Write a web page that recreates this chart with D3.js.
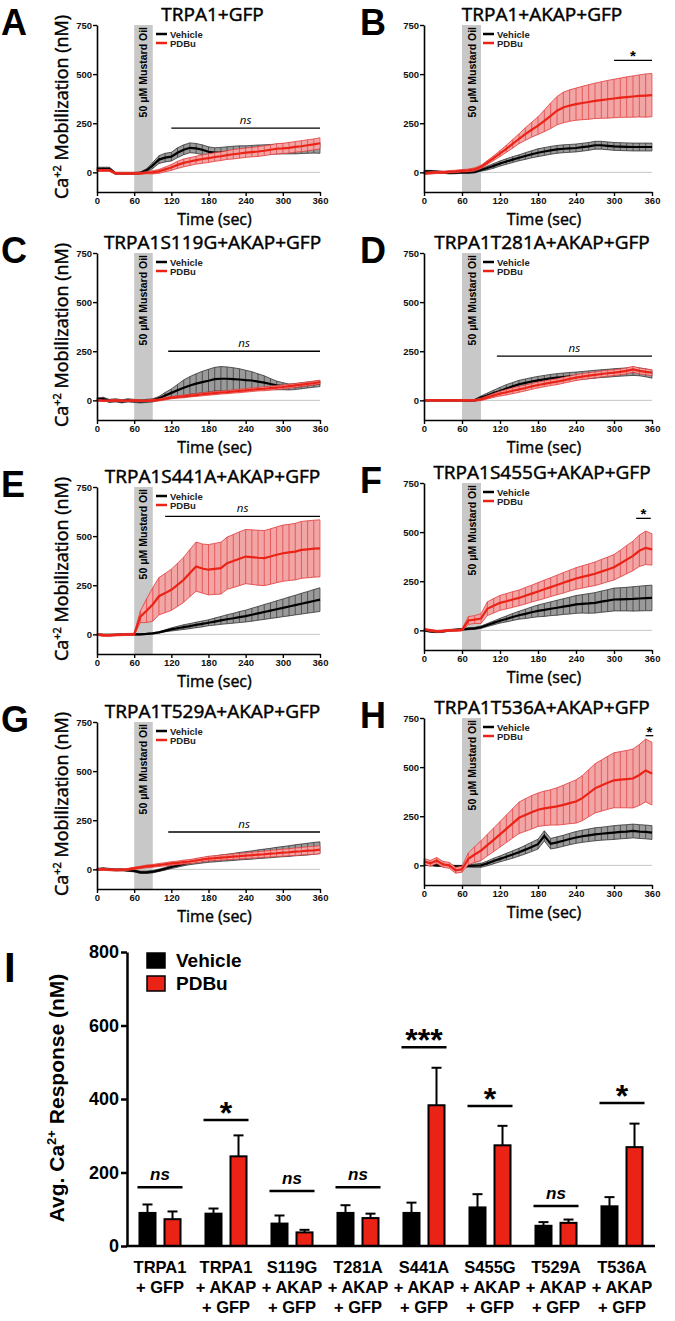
<!DOCTYPE html>
<html lang="en">
<head>
<meta charset="UTF-8">
<title>TRPA1 Ca2+ mobilization</title>
<script src="https://d3js.org/d3.v7.min.js"></script>
<style>
  body { margin: 0; background: #fff; }
</style>
</head>
<body>
<svg id="fig" width="675" height="1321" font-family="'Liberation Sans', Arial, sans-serif"></svg>
<script>
const timeSec = [0,10,20,30,40,50,60,70,80,90,100,110,120,130,140,150,160,170,180,190,200,210,220,230,240,250,260,270,280,290,300,310,320,330,340,350,360];

const vehA    = [18,18,18,-5,-5,-5,-5,-3,10,35,65,75,80,100,115,125,122,115,105,100,102,105,108,110,110,112,114,115,117,118,120,121,122,124,125,126,125];
const vehAErr = [8,8,8,5,5,5,5,5,8,15,20,22,22,25,25,25,25,25,25,25,25,25,25,25,25,25,25,25,25,25,26,27,28,28,28,28,28];
const pdbA    = [10,10,10,-5,-5,-5,-5,-5,-2,0,5,15,25,38,48,55,62,68,72,78,82,88,92,96,100,103,106,110,115,120,122,125,130,133,138,142,148];
const pdbAErr = [5,5,5,5,5,5,5,5,5,8,10,12,15,18,20,20,20,22,22,22,22,22,24,24,24,24,25,25,25,26,26,27,27,28,28,28,28];

const vehB    = [5,5,3,0,-3,-2,0,0,2,12,22,33,45,55,65,74,83,92,100,106,112,117,120,122,124,128,132,138,138,135,132,131,130,129,129,129,129];
const vehBErr = [5,5,5,5,5,5,5,5,5,6,10,12,13,14,15,15,17,18,20,20,20,20,20,20,20,20,20,20,20,20,20,20,20,20,20,20,20];
const pdbB    = [-5,-3,0,0,3,5,8,10,15,28,50,72,96,120,145,171,195,217,238,262,288,314,330,340,347,353,358,364,368,372,376,380,383,386,389,391,393];
const pdbBErr = [6,6,6,6,6,6,6,7,8,8,10,12,15,18,22,25,32,38,45,55,65,72,78,80,82,85,88,90,93,96,98,100,103,105,107,110,110];

const vehC    = [5,8,-3,0,-5,0,-3,-5,-3,0,10,25,38,51,64,76,85,93,100,108,110,110,108,106,103,101,95,90,83,76,72,68,70,74,78,82,85];
const vehCErr = [8,8,8,8,8,8,8,8,8,8,10,15,20,30,40,45,50,55,58,60,62,60,58,55,50,45,40,35,28,22,18,15,15,15,15,15,15];
const pdbC    = [0,-2,-2,0,-2,-2,0,-2,-2,0,2,8,14,17,20,24,27,31,34,37,40,42,45,48,51,54,57,59,62,65,68,72,76,80,84,88,93];
const pdbCErr = [4,4,4,4,4,4,4,4,4,5,5,6,6,6,7,7,7,8,8,8,8,8,8,9,9,9,9,10,10,10,10,10,10,10,10,10,10];

const vehD    = [0,0,0,0,0,0,0,-2,0,14,25,37,48,60,71,82,89,96,102,107,112,116,119,122,124,127,130,133,136,138,141,143,145,147,145,140,133];
const vehDErr = [4,4,4,4,4,4,4,4,5,8,12,15,18,20,20,20,20,20,20,20,20,20,20,20,20,20,20,20,20,20,20,20,20,20,20,20,20];
const pdbD    = [0,0,0,0,0,0,0,0,0,5,15,25,34,41,49,56,63,71,78,84,90,95,102,109,116,121,126,130,134,138,141,145,150,158,150,145,141];
const pdbDErr = [4,4,4,4,4,4,4,4,4,6,8,10,12,14,15,15,15,15,15,15,15,15,15,15,15,15,15,15,15,15,15,15,15,15,15,15,15];

const vehE    = [0,-3,-3,-2,0,0,0,0,2,5,10,18,25,31,37,42,48,53,59,65,71,77,82,88,93,100,107,114,121,128,135,142,149,156,163,170,177];
const vehEErr = [3,3,3,3,3,3,3,3,3,3,3,5,8,10,12,13,14,15,15,18,20,23,25,28,30,33,35,38,40,43,45,48,50,53,55,58,60];
const pdbE    = [0,-5,-5,-3,-2,0,0,90,120,152,194,210,227,252,278,312,345,335,329,333,337,362,373,385,396,393,390,388,396,405,413,417,421,430,433,436,438];
const pdbEErr = [5,5,5,5,5,5,5,30,60,85,95,100,105,110,115,120,125,125,128,130,132,133,135,137,138,139,140,140,141,142,143,143,144,145,145,145,145];

const vehF    = [0,-5,-8,-5,0,3,5,8,10,16,27,38,49,58,68,77,84,92,99,104,110,115,121,126,132,135,137,140,146,151,157,158,159,160,162,164,165];
const vehFErr = [4,4,4,4,4,4,4,5,5,6,8,10,12,15,18,20,24,27,30,33,35,38,40,43,45,47,50,52,54,56,58,59,60,62,63,64,65];
const pdbF    = [5,0,-5,-3,0,0,2,50,55,60,110,125,140,148,157,165,176,187,198,209,220,231,242,253,264,272,280,288,299,310,321,340,360,379,405,420,412];
const pdbFErr = [5,5,5,5,5,5,5,20,20,25,35,37,38,39,40,40,42,43,45,47,48,50,52,53,55,57,58,60,62,63,65,68,72,75,80,85,80];

const vehG    = [0,3,0,-3,-2,-5,-8,-15,-15,-12,-5,3,12,20,28,35,40,45,50,53,57,60,63,67,70,73,77,80,83,87,90,93,97,100,103,107,110];
const vehGErr = [5,5,5,5,5,5,5,6,6,6,6,7,8,9,10,11,12,13,14,15,16,17,18,19,20,21,22,23,24,25,26,27,28,29,30,30,30];
const pdbG    = [0,0,-2,-3,-3,0,5,10,15,18,22,26,30,33,37,40,45,50,55,57,60,62,65,67,70,72,75,77,80,82,85,87,90,92,95,97,100];
const pdbGErr = [5,5,5,5,5,5,6,6,7,7,8,8,9,9,10,10,11,11,12,12,13,13,14,14,15,15,16,16,17,17,18,18,19,19,20,20,20];

const vehH    = [5,3,0,0,-3,-5,-5,-3,-2,0,10,22,33,44,55,67,80,94,108,150,110,117,125,134,142,148,153,158,161,164,167,170,172,175,172,170,167];
const vehHErr = [5,5,5,5,5,5,5,6,8,10,12,14,15,17,19,20,22,24,25,26,27,28,28,29,30,31,32,33,33,34,35,35,35,35,35,35,35];
const pdbH    = [20,10,25,5,0,-25,-20,33,55,75,103,130,158,186,214,242,256,270,283,290,295,300,308,317,325,342,367,392,406,420,433,436,439,442,460,483,467];
const pdbHErr = [15,15,15,15,15,15,15,30,40,50,55,60,65,70,75,80,83,85,85,88,90,95,100,105,110,115,120,125,130,135,140,143,146,150,155,160,160];

const panelLetters = ['A','B','C','D','E','F','G','H'];
const panelTitles = ['TRPA1+GFP','TRPA1+AKAP+GFP','TRPA1S119G+AKAP+GFP','TRPA1T281A+AKAP+GFP',
                     'TRPA1S441A+AKAP+GFP','TRPA1S455G+AKAP+GFP','TRPA1T529A+AKAP+GFP','TRPA1T536A+AKAP+GFP'];
const panelVeh = [[vehA,vehAErr],[vehB,vehBErr],[vehC,vehCErr],[vehD,vehDErr],[vehE,vehEErr],[vehF,vehFErr],[vehG,vehGErr],[vehH,vehHErr]];
const panelPdb = [[pdbA,pdbAErr],[pdbB,pdbBErr],[pdbC,pdbCErr],[pdbD,pdbDErr],[pdbE,pdbEErr],[pdbF,pdbFErr],[pdbG,pdbGErr],[pdbH,pdbHErr]];
const sigLabels = ['ns','*','ns','ns','ns','*','ns','*'];
const sigFrom   = [120,300,115,115,110,335,115,350];
const sigTo     = [360,360,360,360,360,358,360,362];
const sigLevel  = [225,570,250,225,600,570,190,660];
const timeTicks = [0,60,120,180,240,300,360];
const caTicks   = [0,250,500,750];

// ---- summary bar data (panel I) ----
const groupKeys = ['TRPA1+GFP','TRPA1+AKAP+GFP','S119G','T281A','S441A','S455G','T529A','T536A'];
const groupLines = [['TRPA1','+ GFP'],['TRPA1','+ AKAP','+ GFP'],['S119G','+ AKAP','+ GFP'],['T281A','+ AKAP','+ GFP'],
                    ['S441A','+ AKAP','+ GFP'],['S455G','+ AKAP','+ GFP'],['T529A','+ AKAP','+ GFP'],['T536A','+ AKAP','+ GFP']];
const vehMean = [90,88,61,90,90,105,55,108];
const vehSem  = [23,14,22,21,28,36,10,25];
const pdbMean = [73,244,37,76,383,274,63,269];
const pdbSem  = [21,57,7,12,102,53,9,64];
const barSig      = ['ns','*','ns','ns','***','*','ns','*'];
const barSigLevel = [160,343,150,160,541,381,109,389];
const barTicks = [0,200,400,600,800];

const RED = '#ea2316';
const svg = d3.select('#fig');
svg.append('rect').attr('width', 675).attr('height', 1321).attr('fill', '#fff');

// layout of the eight time-course panels
const colLeft = [97, 424];
const colWidth = [223, 228];
const rowTop = [25, 25, 253, 253, 487, 483, 722, 718];
const plotH = 167;

// semi-bold look for the panel headings
function semi(sel, size) {
  return sel.attr('font-size', size).attr('font-family', '"Open Sans", sans-serif')
    .attr('font-weight', 'normal').attr('stroke', '#000').attr('stroke-width', size * 0.025);
}

function drawSeries(g, x, y, mean, err, lineCol, bandCol, hatchCol) {
  const pts = timeSec.map((t, k) => ({ t: t, m: mean[k], e: err[k] }));
  g.append('path').datum(pts)
    .attr('d', d3.area().x(d => x(d.t)).y0(d => y(d.m - d.e)).y1(d => y(d.m + d.e)))
    .attr('fill', bandCol);
  g.selectAll(null).data(pts).enter().append('line')
    .attr('x1', d => x(d.t)).attr('x2', d => x(d.t))
    .attr('y1', d => y(d.m - d.e)).attr('y2', d => y(d.m + d.e))
    .attr('stroke', hatchCol).attr('stroke-width', 0.7);
  [1, -1].forEach(s => {
    g.append('path').datum(pts)
      .attr('d', d3.line().x(d => x(d.t)).y(d => y(d.m + s * d.e)))
      .attr('fill', 'none').attr('stroke', hatchCol).attr('stroke-width', 0.8);
  });
  g.append('path').datum(pts)
    .attr('d', d3.line().x(d => x(d.t)).y(d => y(d.m)))
    .attr('fill', 'none').attr('stroke', lineCol).attr('stroke-width', 2.2);
}

function drawPanel(i) {
  const col = i % 2;
  const left = colLeft[col], width = colWidth[col], top = rowTop[i];
  const x = d3.scaleLinear().domain([0, 360]).range([left, left + width]);
  const y = d3.scaleLinear().domain([-100, 750]).range([top + plotH, top]);
  const g = svg.append('g');

  // mustard oil application window
  g.append('rect')
    .attr('x', x(60)).attr('width', x(90) - x(60))
    .attr('y', y(750)).attr('height', y(-100) - y(750))
    .attr('fill', '#c8c8c8');
  g.append('text')
    .attr('transform', `translate(${x(75) + 4},${y(750) + 2}) rotate(-90)`)
    .attr('text-anchor', 'end')
    .attr('font-size', 10.5).attr('font-weight', 'bold')
    .text('50 \u03bcM Mustard Oil');

  // zero reference
  g.append('line')
    .attr('x1', x(90)).attr('x2', x(360)).attr('y1', y(0)).attr('y2', y(0))
    .attr('stroke', '#c4c4c4').attr('stroke-width', 1);

  drawSeries(g, x, y, panelVeh[i][0], panelVeh[i][1], '#000', '#9a9a9a', '#333');
  drawSeries(g, x, y, panelPdb[i][0], panelPdb[i][1], RED, '#f2a5a5', '#e23a3a');

  // significance bar
  g.append('line')
    .attr('x1', x(sigFrom[i])).attr('x2', x(sigTo[i]))
    .attr('y1', y(sigLevel[i])).attr('y2', y(sigLevel[i]))
    .attr('stroke', '#000').attr('stroke-width', 1.3);
  const sigX = (x(sigFrom[i]) + x(sigTo[i])) / 2;
  if (sigLabels[i] === 'ns') {
    g.append('text').attr('x', sigX).attr('y', y(sigLevel[i]) - 4)
      .attr('text-anchor', 'middle').attr('font-size', 11.5).attr('font-style', 'italic')
      .attr('font-family', '"Open Sans", sans-serif').text('ns');
  } else {
    g.append('text').attr('x', sigX).attr('y', y(sigLevel[i]) + 1)
      .attr('text-anchor', 'middle').attr('font-size', 15).attr('font-weight', 'bold').text('*');
  }

  // legend
  [['Vehicle', '#000'], ['PDBu', RED]].forEach((d, k) => {
    const ly = top + 9 + k * 9;
    g.append('line').attr('x1', left + 59).attr('x2', left + 70).attr('y1', ly).attr('y2', ly)
      .attr('stroke', d[1]).attr('stroke-width', 2.5);
    g.append('text').attr('x', left + 73).attr('y', ly + 3.5)
      .attr('font-size', 9.5).attr('font-weight', 'bold').attr('fill', '#222').text(d[0]);
  });

  // axes
  const ax = g.append('g').attr('transform', `translate(0,${y(-100)})`)
    .call(d3.axisBottom(x).tickValues(timeTicks).tickSize(4).tickSizeOuter(0).tickPadding(1));
  const ay = g.append('g').attr('transform', `translate(${left},0)`)
    .call(d3.axisLeft(y).tickValues(caTicks).tickSize(4).tickSizeOuter(0).tickPadding(1));
  [ax, ay].forEach(a => {
    a.attr('font-family', null);
    a.select('.domain').attr('stroke-width', 1.6);
    a.selectAll('.tick line').attr('stroke-width', 1.4);
    a.selectAll('.tick text').attr('font-size', 9.5).attr('font-weight', 'bold').attr('fill', '#111');
  });

  semi(g.append('text'), 16)
    .attr('x', left + width / 2 + 6).attr('y', y(-100) + 33)
    .attr('text-anchor', 'middle').text('Time (sec)');

  semi(g.append('text'), 19)
    .attr('x', left + width / 2 + 4).attr('y', top - 4)
    .attr('text-anchor', 'middle').text(panelTitles[i]);

  g.append('text')
    .attr('x', col === 0 ? 1 : 360).attr('y', top + 10)
    .attr('font-size', 36).attr('font-weight', 'bold').text(panelLetters[i]);

  if (col === 0) {
    const yl = semi(g.append('text'), 18)
      .attr('transform', `translate(68,${top + 82}) rotate(-90)`)
      .attr('text-anchor', 'middle');
    yl.append('tspan').text('Ca');
    yl.append('tspan').attr('dy', -7).attr('font-size', 11).text('+2');
    yl.append('tspan').attr('dy', 7).text(' Mobilization (nM)');
  }
}

d3.range(8).forEach(drawPanel);

// ---- panel I: average response bars ----
const bx = d3.scaleBand().domain(groupKeys).range([127, 655]);
const sub = d3.scaleBand().domain(['veh', 'pdb'])
  .range([bx.bandwidth() * 0.174, bx.bandwidth() * 0.826]).paddingInner(0.28);
const by = d3.scaleLinear().domain([0, 800]).range([1246, 952]);
const gi = svg.append('g');

const barRows = [];
groupKeys.forEach((k, j) => {
  barRows.push({ key: k, s: 'veh', v: vehMean[j], e: vehSem[j], fill: '#000' });
  barRows.push({ key: k, s: 'pdb', v: pdbMean[j], e: pdbSem[j], fill: RED });
});

gi.selectAll('.err').data(barRows).enter().append('g').each(function (d) {
  const cx = bx(d.key) + sub(d.s) + sub.bandwidth() / 2;
  const s = d3.select(this);
  s.append('line').attr('x1', cx).attr('x2', cx).attr('y1', by(d.v)).attr('y2', by(d.v + d.e))
    .attr('stroke', '#000').attr('stroke-width', 2);
  s.append('line').attr('x1', cx - 5).attr('x2', cx + 5).attr('y1', by(d.v + d.e)).attr('y2', by(d.v + d.e))
    .attr('stroke', '#000').attr('stroke-width', 2);
});

gi.selectAll('.bar').data(barRows).enter().append('rect')
  .attr('x', d => bx(d.key) + sub(d.s) + 1)
  .attr('width', sub.bandwidth() - 2)
  .attr('y', d => by(d.v))
  .attr('height', d => by(0) - by(d.v))
  .attr('fill', d => d.fill)
  .attr('stroke', '#000').attr('stroke-width', 2);

// significance marks
groupKeys.forEach((k, j) => {
  const x1 = bx(k) + sub('veh') - 1, x2 = bx(k) + sub('pdb') + sub.bandwidth() + 1;
  const ly = by(barSigLevel[j]);
  gi.append('line').attr('x1', x1).attr('x2', x2).attr('y1', ly).attr('y2', ly)
    .attr('stroke', '#000').attr('stroke-width', 2.5);
  const t = gi.append('text').attr('x', (x1 + x2) / 2).attr('text-anchor', 'middle');
  if (barSig[j] === 'ns') {
    t.attr('y', ly - 7).attr('font-size', 17).attr('font-style', 'italic').attr('font-weight', 'bold').text('ns');
  } else {
    t.attr('y', ly + 4).attr('font-size', 32).attr('font-weight', 'bold').text(barSig[j]);
  }
});

const axI = gi.append('g').attr('transform', 'translate(127,0)')
  .call(d3.axisLeft(by).tickValues(barTicks).tickSize(6).tickSizeOuter(0).tickPadding(2));
axI.attr('font-family', null);
axI.select('.domain').attr('stroke-width', 2.5);
axI.selectAll('.tick line').attr('stroke-width', 2.5);
axI.selectAll('.tick text').attr('font-size', 18).attr('font-weight', 'bold').attr('fill', '#000');

gi.append('line').attr('x1', 126).attr('x2', 655).attr('y1', by(0)).attr('y2', by(0))
  .attr('stroke', '#000').attr('stroke-width', 2.5);

groupKeys.forEach((k, j) => {
  const t = gi.append('text').attr('text-anchor', 'middle')
    .attr('font-size', 16.5).attr('font-weight', 'bold');
  groupLines[j].forEach((s, n) => {
    t.append('tspan').attr('x', bx(k) + bx.bandwidth() / 2).attr('y', 1273 + n * 20).text(s);
  });
});

// legend
[['Vehicle', '#000'], ['PDBu', RED]].forEach((d, k) => {
  gi.append('rect').attr('x', 147).attr('y', 953 + k * 23).attr('width', 18).attr('height', 15)
    .attr('fill', d[1]).attr('stroke', '#000').attr('stroke-width', 1.5);
  gi.append('text').attr('x', 176).attr('y', 967 + k * 23)
    .attr('font-size', 19).attr('font-weight', 'bold').text(d[0]);
});

const ylI = gi.append('text')
  .attr('transform', 'translate(64,1098) rotate(-90)')
  .attr('text-anchor', 'middle').attr('font-size', 21).attr('font-weight', 'bold');
ylI.append('tspan').text('Avg. Ca');
ylI.append('tspan').attr('dy', -8).attr('font-size', 13).text('2+');
ylI.append('tspan').attr('dy', 8).text(' Response (nM)');

gi.append('text').attr('x', 4).attr('y', 982).attr('font-size', 42).attr('font-weight', 'bold').text('I');
</script>
</body>
</html>
